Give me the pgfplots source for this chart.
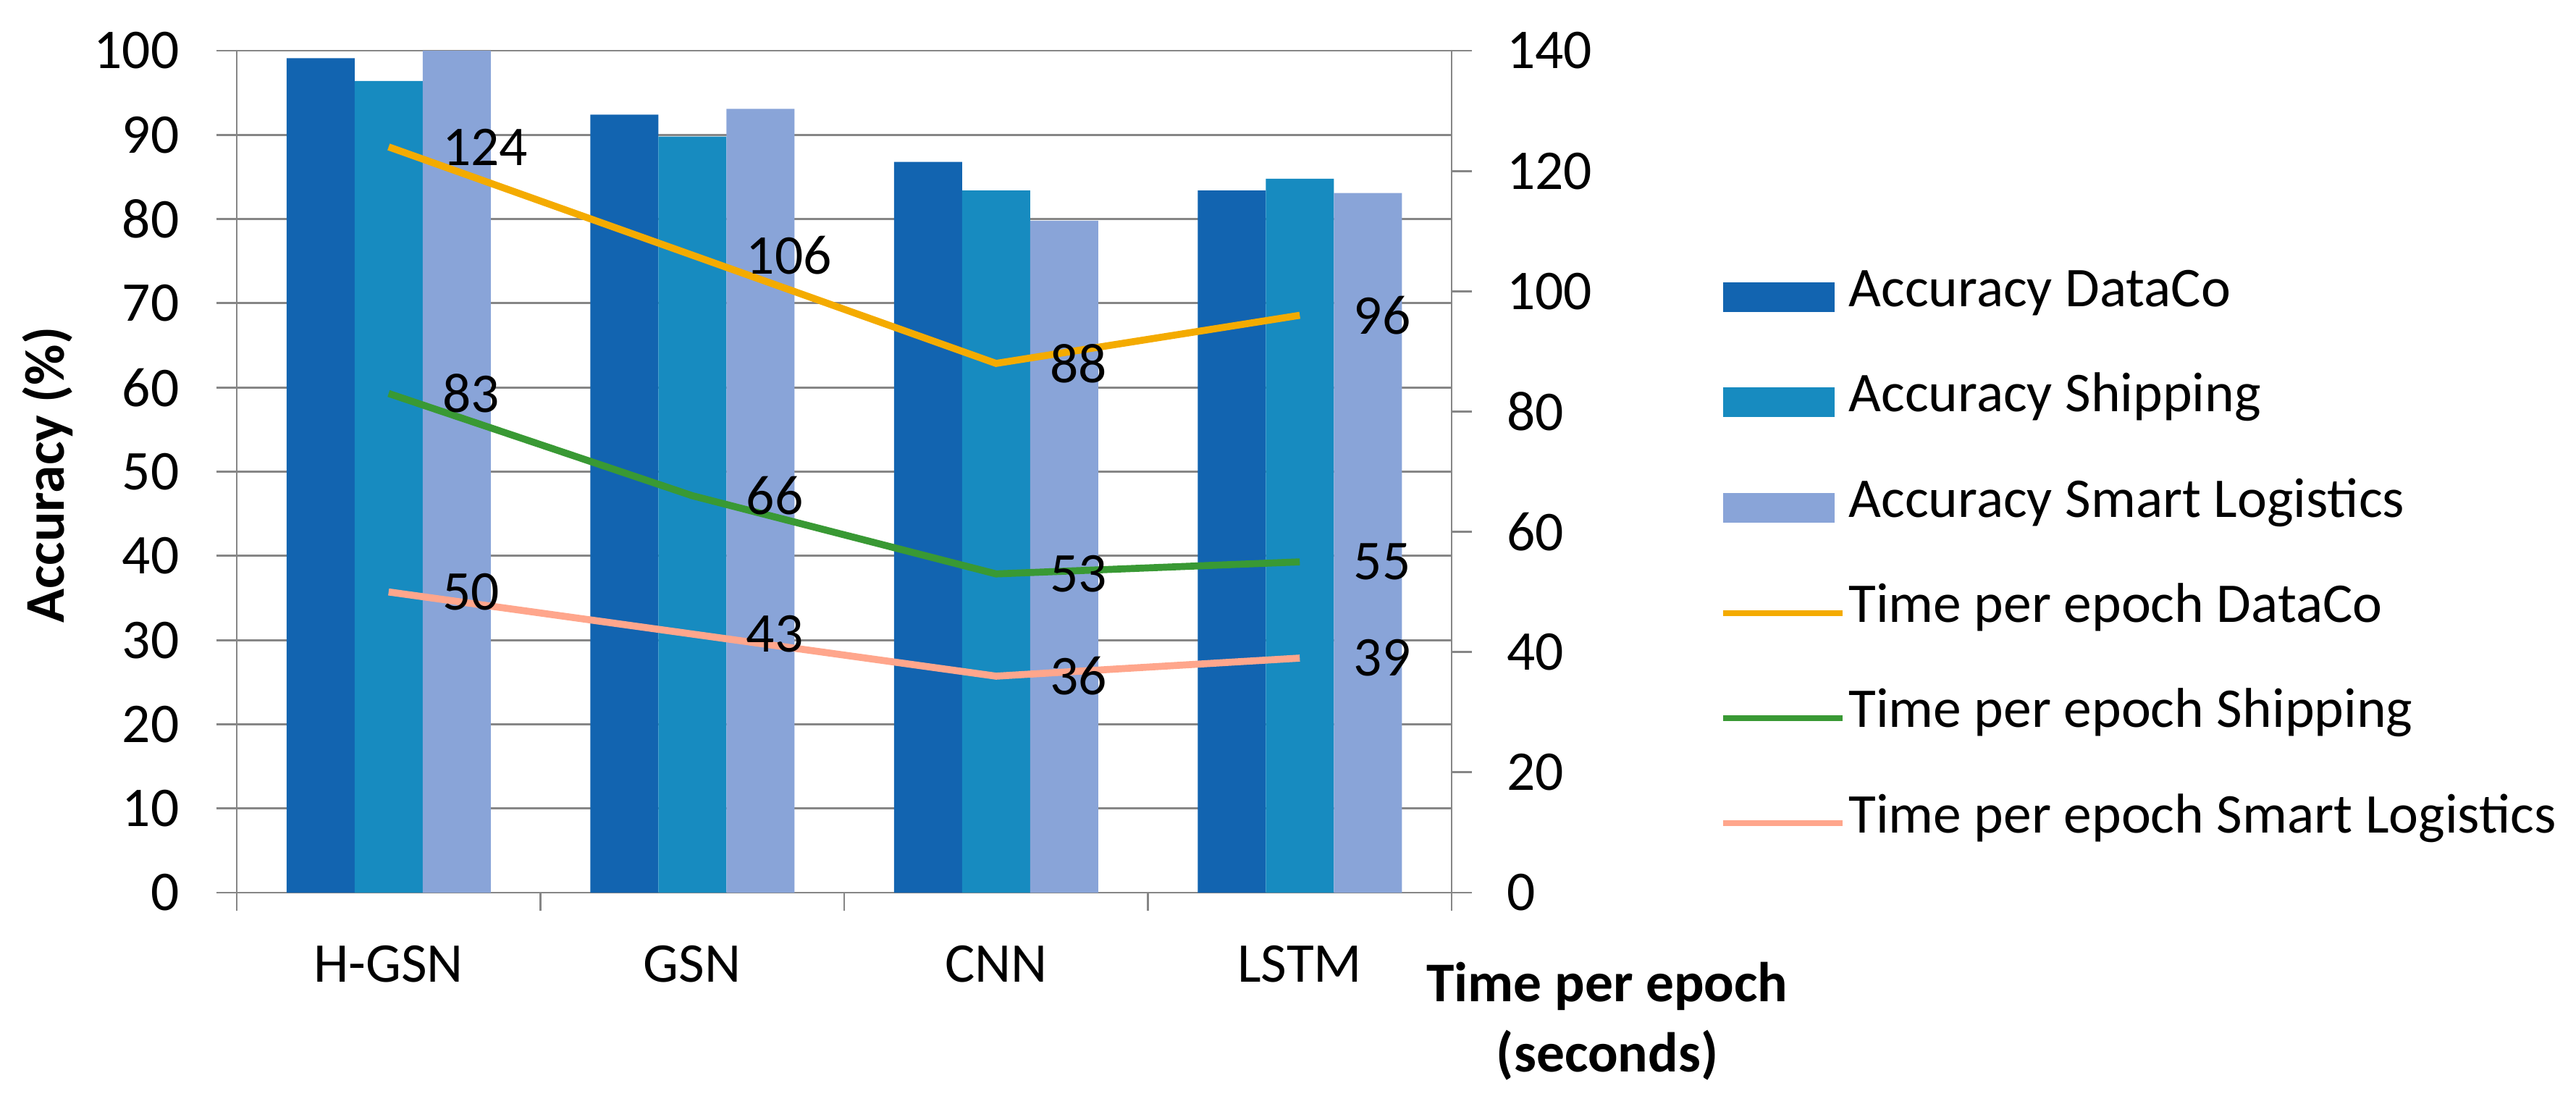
\documentclass[border=0pt,12pt]{standalone}
\usepackage{fontspec}
\setmainfont{Carlito}
\usepackage{pgfplots}
\pgfplotsset{compat=1.18}
\definecolor{cA}{RGB}{18,100,176}
\definecolor{cB}{RGB}{23,139,192}
\definecolor{cC}{RGB}{137,164,216}
\definecolor{lA}{RGB}{244,171,0}
\definecolor{lB}{RGB}{57,153,52}
\definecolor{lC}{RGB}{255,166,140}
\definecolor{axgray}{RGB}{134,134,134}
\pgfplotsset{/pgf/number format/assume math mode=true,
  common/.style={scale only axis, width=259.75pt, height=180.03pt, xmin=-0.5, xmax=3.5,
    axis line style={axgray, line width=0.45pt},
    tick style={axgray, line width=0.45pt},
    tick align=outside, major tick length=4.4pt, minor tick length=3.9pt},
  barleg/.style={legend image code/.code={\fill[##1] (0pt,-3.17pt) rectangle (23.9pt,3.17pt);}},
  lineleg/.style={legend image code/.code={\draw[##1, line width=1.25pt] (0pt,0pt) -- (25.6pt,0pt);}}}
\begin{document}
\begin{tikzpicture}
\begin{axis}[common,
  ymin=0, ymax=100, ytick={0,10,...,100},
  axis x line*=bottom, axis y line*=left,
  ymajorgrids, major grid style={axgray, line width=0.45pt},
  xtick={0,1,2,3}, xticklabels={H-GSN,GSN,CNN,LSTM},
  major x tick style={draw=none},
  minor xtick={-0.5,0.5,1.5,2.5,3.5},
  xticklabel style={anchor=north, inner sep=0pt, yshift=-6.7pt},
  yticklabel style={anchor=east, inner sep=0pt, xshift=-7.7pt},
  ylabel={Accuracy (\%)},
  every axis y label/.style={at={(axis description cs:-0.1424,0.4961)}, anchor=base, rotate=90, font=\bfseries},
  clip=false]
\addplot[ybar, bar width=14.55pt, bar shift=-14.55pt, fill=cA, draw=none] coordinates {(0,99.1) (1,92.4) (2,86.8) (3,83.4)};
\addplot[ybar, bar width=14.55pt, bar shift=0pt, fill=cB, draw=none] coordinates {(0,96.4) (1,89.8) (2,83.4) (3,84.8)};
\addplot[ybar, bar width=14.55pt, bar shift=14.55pt, fill=cC, draw=none] coordinates {(0,100) (1,93.1) (2,79.8) (3,83.1)};
\coordinate (bbSW) at (rel axis cs:-0.19488,-0.25967);
\coordinate (bbNE) at (rel axis cs:1.92551,1.06019);
\node[anchor=base, font=\bfseries] at (rel axis cs:1.1281,-0.12898) {Time per epoch};
\node[anchor=base, font=\bfseries] at (rel axis cs:1.1281,-0.21238) {(seconds)};
\end{axis}
\begin{axis}[common,
  ymin=0, ymax=140, ytick={0,20,...,140},
  axis x line=none, axis y line*=right,
  yticklabel style={anchor=west, inner sep=0pt, xshift=7.2pt},
  nodes near coords,
  every node near coord/.append style={anchor=west, inner sep=0pt, xshift=10.8pt, yshift=0pt, text=black},
  legend cell align=left,
  legend style={at={(axis description cs:1.2211,0.3947)}, anchor=west, draw=none, fill=none,
    inner sep=0pt, outer sep=0pt, row sep=4.5pt, column sep=0.6pt,
    nodes={inner sep=0pt, text height=11pt, text depth=7pt}},
  clip=false]
\addlegendimage{barleg, fill=cA, draw=none}
\addlegendentry{Accuracy DataCo}
\addlegendimage{barleg, fill=cB, draw=none}
\addlegendentry{Accuracy Shipping}
\addlegendimage{barleg, fill=cC, draw=none}
\addlegendentry{Accuracy Smart Logistics}
\addplot[lA, line width=1.5pt, mark=none, lineleg] coordinates {(0,124) (1,106) (2,88) (3,96)};
\addlegendentry{Time per epoch DataCo}
\addplot[lB, line width=1.5pt, mark=none, lineleg] coordinates {(0,83) (1,66) (2,53) (3,55)};
\addlegendentry{Time per epoch Shipping}
\addplot[lC, line width=1.5pt, mark=none, lineleg] coordinates {(0,50) (1,43) (2,36) (3,39)};
\addlegendentry{Time per epoch Smart Logistics}
\end{axis}
\path (bbSW) rectangle (bbNE);
\end{tikzpicture}
\end{document}
